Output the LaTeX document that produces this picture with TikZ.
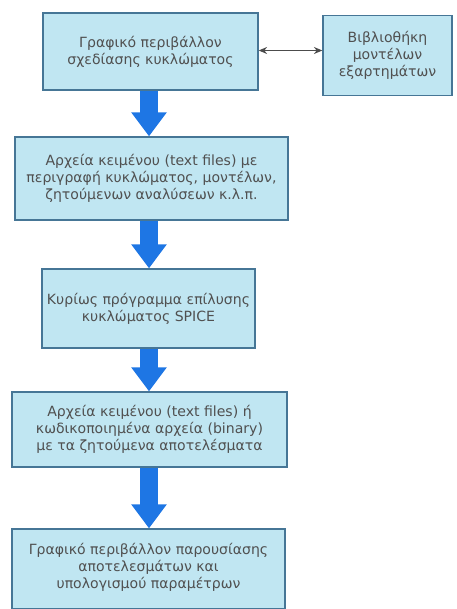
\documentclass[tikz,border=0pt]{standalone}
\usepackage{fontspec}
\setmainfont{DejaVu Sans}
\usetikzlibrary{arrows.meta,calc}

\definecolor{boxfill}{RGB}{192,230,242}
\definecolor{boxline}{RGB}{70,118,150}
\definecolor{flowblue}{RGB}{30,118,228}
\definecolor{txtgrey}{RGB}{80,80,80}

\begin{document}
\begin{tikzpicture}[x=0.025cm,y=-0.025cm,
    stage/.style={draw=boxline, line width=0.9pt, fill=boxfill, inner sep=0pt,
        align=center, text=txtgrey, font=\fontsize{10}{12.2}\selectfont},
    flow/.style={draw=flowblue, line width=0.45cm, -{Triangle[width=0.85cm,length=0.6cm]}}]
    % Fix the page to the picture size
    \useasboundingbox (0,0) rectangle (457,609);

    % Define the boxes of the flow
    \node[stage, minimum width=5.375cm, minimum height=1.925cm] (gui) at (150.5,51.5)
        {Γραφικό περιβάλλον\\σχεδίασης κυκλώματος};
    \node[stage, minimum width=3.225cm, minimum height=2.0cm] (lib) at (387.5,55.5)
        {Βιβλιοθήκη\\μοντέλων\\εξαρτημάτων};
    \node[stage, minimum width=6.825cm, minimum height=2.075cm] (txt) at (151.5,178.5)
        {Αρχεία κειμένου (text files) με\\περιγραφή κυκλώματος, μοντέλων,\\ζητούμενων αναλύσεων κ.λ.π.};
    \node[stage, minimum width=5.325cm, minimum height=1.975cm] (spice) at (148.5,308.5)
        {Κυρίως πρόγραμμα επίλυσης\\κυκλώματος SPICE};
    \node[stage, minimum width=6.875cm, minimum height=1.875cm] (res) at (149.5,429.5)
        {Αρχεία κειμένου (text files) ή\\κωδικοποιημένα αρχεία (binary)\\με τα ζητούμενα αποτελέσματα};
    \node[stage, minimum width=6.825cm, minimum height=2.0cm, text depth=0.15cm] (post) at (148.5,569)
        {Γραφικό περιβάλλον παρουσίασης\\αποτελεσμάτων και\\υπολογισμού παραμέτρων};

    % Draw the link to the library
    \draw[{Stealth[length=6pt,width=5pt]}-{Stealth[length=6pt,width=5pt]}, draw=black!70, line width=0.7pt]
        ($(gui.east)+(0,-1)$) -- ($(gui.east -| lib.west)+(0,-1)$);

    % Draw the big arrows between stages
    \draw[flow] (gui.south -| 149,0) -- (txt.north -| 149,0);
    \draw[flow] (txt.south -| 149,0) -- (spice.north -| 149,0);
    \draw[flow] (spice.south -| 149,0) -- (res.north -| 149,0);
    \draw[flow] (res.south -| 149,0) -- (post.north -| 149,0);

\end{tikzpicture}
\end{document}
